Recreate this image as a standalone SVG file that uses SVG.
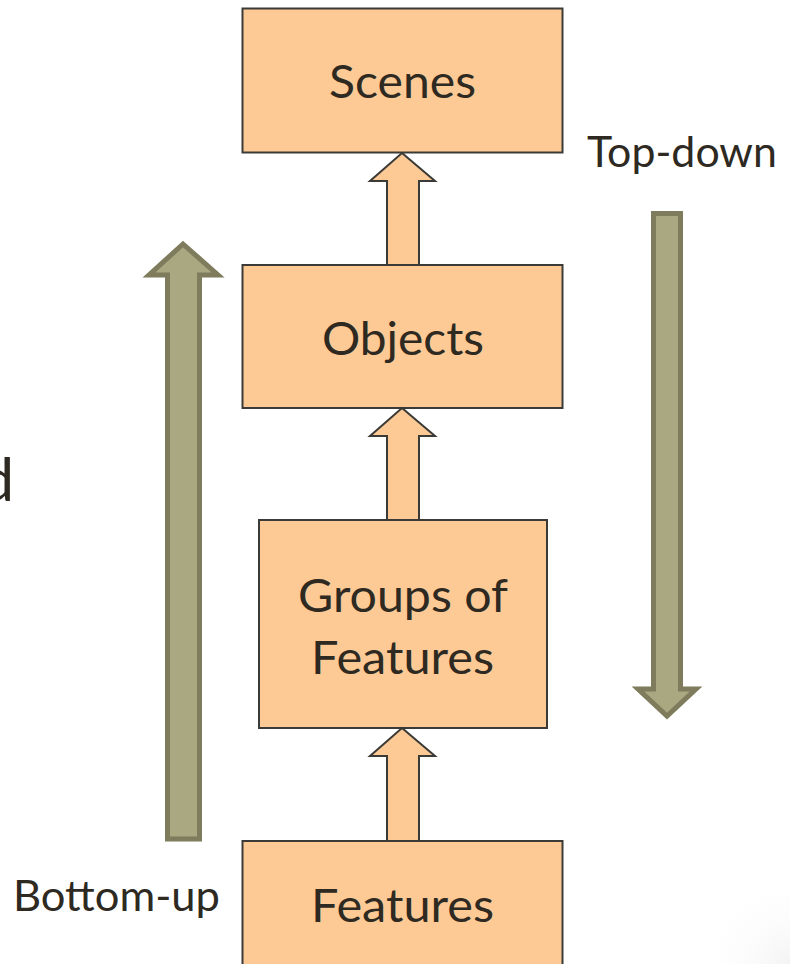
<svg xmlns="http://www.w3.org/2000/svg" width="790" height="964" viewBox="0 0 790 964">
  <defs>
    <radialGradient id="pageShade" cx="1" cy="1" r="0.5">
      <stop offset="0" stop-color="#ececec" stop-opacity="0.6"/>
      <stop offset="1" stop-color="#ffffff" stop-opacity="0"/>
    </radialGradient>
    <style>
      .box { fill: #fdc995; stroke: #3a3a36; stroke-width: 2; }
      .lbl { font-family: Lato, "Open Sans", "Liberation Sans", sans-serif; fill: #2e2a22; text-anchor: middle; font-size: 47px; }
      .side { font-family: Lato, "Open Sans", "Liberation Sans", sans-serif; fill: #2e2a22; font-size: 42px; }
      .edge-title { font-family: Lato, "Open Sans", "Liberation Sans", sans-serif; fill: #2e2a22; font-size: 60px; text-anchor: end; }
      .step { fill: #fdc995; stroke: #3a3a36; stroke-width: 2; stroke-linejoin: miter; }
      .flow { fill: #aaa881; stroke: #7e7c5c; stroke-width: 5; stroke-linejoin: miter; stroke-miterlimit: 10; }
    </style>
  </defs>

  <rect width="790" height="964" fill="#ffffff"/>
  <rect x="600" y="780" width="190" height="184" fill="url(#pageShade)"/>

  <!-- partly visible heading on the left edge -->
  <text class="edge-title" x="14" y="501">d</text>

  <!-- nodes -->
  <g id="scenes">
    <rect class="box" x="242.5" y="8.5" width="320" height="144"/>
    <text class="lbl" x="402.5" y="98" textLength="147" lengthAdjust="spacingAndGlyphs">Scenes</text>
  </g>
  <g id="objects">
    <rect class="box" x="242.5" y="265" width="320" height="143"/>
    <text class="lbl" x="403" y="355" textLength="162" lengthAdjust="spacingAndGlyphs">Objects</text>
  </g>
  <g id="groups-of-features">
    <rect class="box" x="259" y="520" width="288" height="208"/>
    <text class="lbl" x="403" y="612" textLength="210" lengthAdjust="spacingAndGlyphs">Groups of</text>
    <text class="lbl" x="402.5" y="674" textLength="183" lengthAdjust="spacingAndGlyphs">Features</text>
  </g>
  <g id="features">
    <rect class="box" x="242.5" y="841" width="320" height="140"/>
    <text class="lbl" x="402.5" y="922" textLength="183" lengthAdjust="spacingAndGlyphs">Features</text>
  </g>

  <!-- side labels -->
  <g id="top-down">
    <text class="side" x="587" y="167" textLength="190" lengthAdjust="spacingAndGlyphs">Top-down</text>
  </g>
  <g id="bottom-up">
    <text class="side" x="13" y="911" textLength="207" lengthAdjust="spacingAndGlyphs">Bottom-up</text>
  </g>

  <!-- connectors -->
  <g id="connectors">
    <path class="step" d="M402,153 L435,181 L419,181 L419,265 L387,265 L387,181 L370,181 Z"/>
    <path class="step" d="M402,408 L435,436 L419,436 L419,520 L387,520 L387,436 L370,436 Z"/>
    <path class="step" d="M402,728 L435,756 L419,756 L419,841 L387,841 L387,756 L370,756 Z"/>

    <path class="flow" d="M183,244 L218,275 L199.5,275 L199.5,839 L167.5,839 L167.5,275 L149,275 Z"/>
    <path class="flow" d="M653.5,213.5 L680.5,213.5 L680.5,689 L696,689 L667,716 L638,689 L653.5,689 Z"/>
  </g>
</svg>
